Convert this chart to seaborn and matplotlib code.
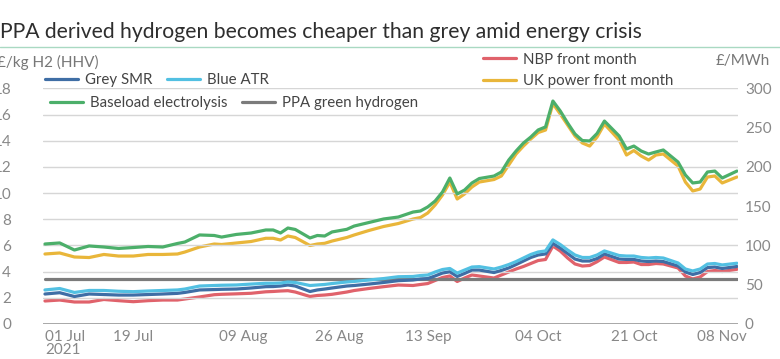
import matplotlib
matplotlib.use("Agg")
import matplotlib.pyplot as plt
import seaborn as sns
import pandas as pd
from matplotlib.lines import Line2D

# business-day positions (0 = 01 Jul 2021)
days = [0, 2, 4, 6, 8, 10, 12, 14, 16, 18, 19, 21, 23, 24, 26, 28, 30, 31, 32, 33,
        34, 36, 37, 38, 39, 41, 42, 44, 46, 48, 50, 51, 52, 53, 54, 55, 56, 57, 58, 59,
        61, 62, 63, 64, 65, 66, 67, 68, 69, 70, 71, 72, 73, 74, 75, 76, 78, 79, 80, 81,
        82, 83, 84, 86, 87, 88, 89, 90, 91, 92, 94]

# £/kg H2 (HHV), left axis
baseload = [6.11, 6.19, 5.65, 5.96, 5.88, 5.77, 5.84, 5.92, 5.88, 6.15,
            6.26, 6.80, 6.76, 6.64, 6.84, 6.95, 7.18, 7.18, 6.95, 7.33,
            7.22, 6.57, 6.76, 6.72, 7.03, 7.23, 7.48, 7.75, 8.02, 8.17,
            8.55, 8.63, 8.94, 9.39, 10.08, 11.15, 9.93, 10.23, 10.77, 11.11,
            11.30, 11.61, 12.52, 13.21, 13.82, 14.28, 14.82, 15.05, 17.03, 16.27,
            15.35, 14.51, 14.01, 13.98, 14.55, 15.50, 14.36, 13.37, 13.59, 13.21,
            12.98, 13.14, 13.29, 12.37, 11.38, 10.77, 10.84, 11.61, 11.68, 11.15,
            11.68]
blue_atr = [2.60, 2.71, 2.41, 2.56, 2.56, 2.50, 2.47, 2.52, 2.56, 2.60,
            2.67, 2.90, 2.94, 2.96, 2.98, 3.05, 3.11, 3.11, 3.13, 3.21,
            3.17, 2.94, 2.98, 3.02, 3.09, 3.21, 3.25, 3.36, 3.47, 3.61,
            3.63, 3.70, 3.74, 3.97, 4.16, 4.24, 3.89, 4.12, 4.35, 4.38,
            4.20, 4.35, 4.54, 4.77, 5.04, 5.31, 5.50, 5.58, 6.42, 6.07,
            5.65, 5.27, 5.08, 5.08, 5.27, 5.58, 5.23, 5.19, 5.19, 5.08,
            5.04, 5.08, 5.04, 4.66, 4.20, 4.05, 4.20, 4.58, 4.62, 4.51,
            4.64]
grey_smr = [2.29, 2.39, 2.10, 2.29, 2.25, 2.21, 2.21, 2.25, 2.29, 2.34,
            2.41, 2.60, 2.63, 2.65, 2.67, 2.75, 2.85, 2.86, 2.90, 2.98,
            2.90, 2.48, 2.60, 2.67, 2.75, 2.90, 2.94, 3.05, 3.17, 3.31,
            3.36, 3.44, 3.47, 3.67, 3.89, 3.99, 3.63, 3.86, 4.12, 4.12,
            3.93, 4.09, 4.28, 4.54, 4.81, 5.08, 5.27, 5.35, 6.15, 5.80,
            5.38, 4.96, 4.81, 4.81, 5.00, 5.35, 4.96, 4.93, 4.93, 4.81,
            4.77, 4.81, 4.77, 4.43, 3.97, 3.78, 3.93, 4.31, 4.35, 4.24,
            4.39]
ppa_green = [3.41] * len(days)

# £/MWh, right axis
uk_power = [89.1, 90.4, 85.3, 84.6, 88.5, 86.5, 86.5, 88.5, 88.5, 89.1,
            91.6, 98.0, 101.8, 101.2, 103.1, 105.0, 109.1, 109.1, 106.9, 112.0,
            110.1, 99.9, 101.8, 102.7, 105.6, 110.1, 113.3, 119.0, 124.1, 127.9,
            133.6, 135.5, 141.3, 151.5, 164.2, 180.7, 159.1, 165.5, 174.4, 180.7,
            183.9, 188.4, 202.4, 216.4, 226.5, 235.5, 243.7, 246.9, 280.6, 267.3,
            253.3, 239.3, 230.4, 226.5, 238.0, 254.5, 234.2, 215.1, 220.8, 213.8,
            208.7, 215.1, 216.4, 201.1, 180.7, 169.3, 171.8, 187.1, 188.4, 179.5,
            187.1]
nbp = [29.3, 30.5, 28.0, 28.0, 31.2, 29.7, 28.4, 29.7, 30.5, 30.5,
       31.8, 34.4, 37.3, 37.8, 38.4, 39.1, 41.0, 41.4, 42.0, 42.4,
       40.7, 35.0, 36.3, 36.9, 37.8, 40.7, 42.6, 45.2, 47.5, 49.6,
       49.0, 50.3, 51.5, 55.4, 59.2, 61.1, 54.1, 58.5, 62.4, 61.1,
       58.5, 62.4, 66.2, 70.0, 73.2, 77.0, 80.8, 82.1, 99.3, 92.9,
       84.0, 76.4, 73.8, 74.5, 79.3, 85.3, 78.3, 78.3, 78.9, 75.7,
       75.7, 77.0, 76.4, 71.3, 61.1, 57.3, 59.8, 66.8, 68.1, 66.8,
       69.6]

tick_days = [0, 12, 27, 40, 52, 67, 80, 92]
tick_labels = ["01 Jul\n2021", "19 Jul", "09 Aug", "26 Aug", "13 Sep", "04 Oct", "21 Oct", "08 Nov"]
left_ticks = list(range(0, 19, 2))
right_ticks = list(range(0, 301, 50))

df = pd.DataFrame({"day": days, "Grey SMR": grey_smr, "Blue ATR": blue_atr,
                   "Baseload electrolysis": baseload, "PPA green hydrogen": ppa_green,
                   "NBP front month": nbp, "UK power front month": uk_power})

colors = {"Grey SMR": "#3f6ea5", "Blue ATR": "#52c0e2", "Baseload electrolysis": "#4caf6a",
          "PPA green hydrogen": "#7b7b7b", "NBP front month": "#e0626b",
          "UK power front month": "#e9b63a"}

sns.set_style("white")
plt.rcParams['font.family'] = ['Lato', 'DejaVu Sans']

fig = plt.figure(figsize=(7.8, 3.59), dpi=100)
ax = fig.add_axes([0.0551, 0.0975, 0.891, 0.6565])
ax2 = ax.twinx()
ax.set_zorder(ax2.get_zorder() + 1)
ax.patch.set_visible(False)

lw = 2.3
for col in ["NBP front month", "UK power front month"]:
    sns.lineplot(data=df, x="day", y=col, ax=ax2, color=colors[col], lw=lw, legend=False)
for col in ["PPA green hydrogen", "Grey SMR", "Blue ATR", "Baseload electrolysis"]:
    sns.lineplot(data=df, x="day", y=col, ax=ax, color=colors[col], lw=lw, legend=False)

ax.set_xlim(-0.27, 94.14)
ax.set_ylim(0, 18)
ax2.set_ylim(0, 300)
ax.set_yticks(left_ticks)
ax2.set_yticks(right_ticks)
ax.set_xticks(tick_days)
ax.set_xticklabels(tick_labels)
first = ax.xaxis.get_majorticklabels()[0]
first.set_ha("left")
first.set_linespacing(0.95)
for a in (ax, ax2):
    a.set_xlabel("")
    a.set_ylabel("")
    for s in a.spines.values():
        s.set_visible(False)
ax.grid(axis="y", color="#d6d6d6", lw=1)
ax.grid(axis="x", visible=False)
ax.axhline(0, color="#a8a8a8", lw=1.4, zorder=1)
ax.tick_params(axis="y", length=0, pad=23, labelsize=11, labelcolor="#888888")
ax.tick_params(axis="x", length=0, pad=4, labelsize=11, labelcolor="#888888")
ax2.tick_params(axis="y", length=0, pad=5, labelsize=11, labelcolor="#888888")
for t in ax.get_yticklabels():
    t.set_ha("right")

# title, rule, units
fig.text(0.0, 0.894, "PPA derived hydrogen becomes cheaper than grey amid energy crisis",
         ha="left", va="baseline", fontsize=15.2, color="#2e2e2e")
fig.add_artist(Line2D([0, 1], [0.869, 0.869], transform=fig.transFigure, color="#a9d9c2", lw=1))
fig.text(-0.004, 0.827, "£/kg H2 (HHV)", ha="left", va="center", fontsize=11, color="#777777")
fig.text(0.987, 0.830, "£/MWh", ha="right", va="center", fontsize=11, color="#777777")

def handle(name):
    return Line2D([], [], color=colors[name], lw=2.3)

leg_kw = dict(frameon=False, fontsize=10.8, handlelength=2.2, handletextpad=0.45,
              borderpad=0, borderaxespad=0, labelcolor="#444444", loc="center left")
row1 = ["Grey SMR", "Blue ATR"]
row2 = ["Baseload electrolysis", "PPA green hydrogen"]
right = ["NBP front month", "UK power front month"]
fig.legend([handle(n) for n in row1], row1, ncol=2, columnspacing=1.0,
           bbox_to_anchor=(0.0577, 0.777), **leg_kw)
fig.legend([handle(n) for n in row2], row2, ncol=2, columnspacing=1.0,
           bbox_to_anchor=(0.064, 0.713), **leg_kw)
fig.legend([handle(n) for n in right], right, ncol=1, labelspacing=0.5,
           bbox_to_anchor=(0.619, 0.804), **leg_kw)

fig.savefig("out.png", dpi=100)
